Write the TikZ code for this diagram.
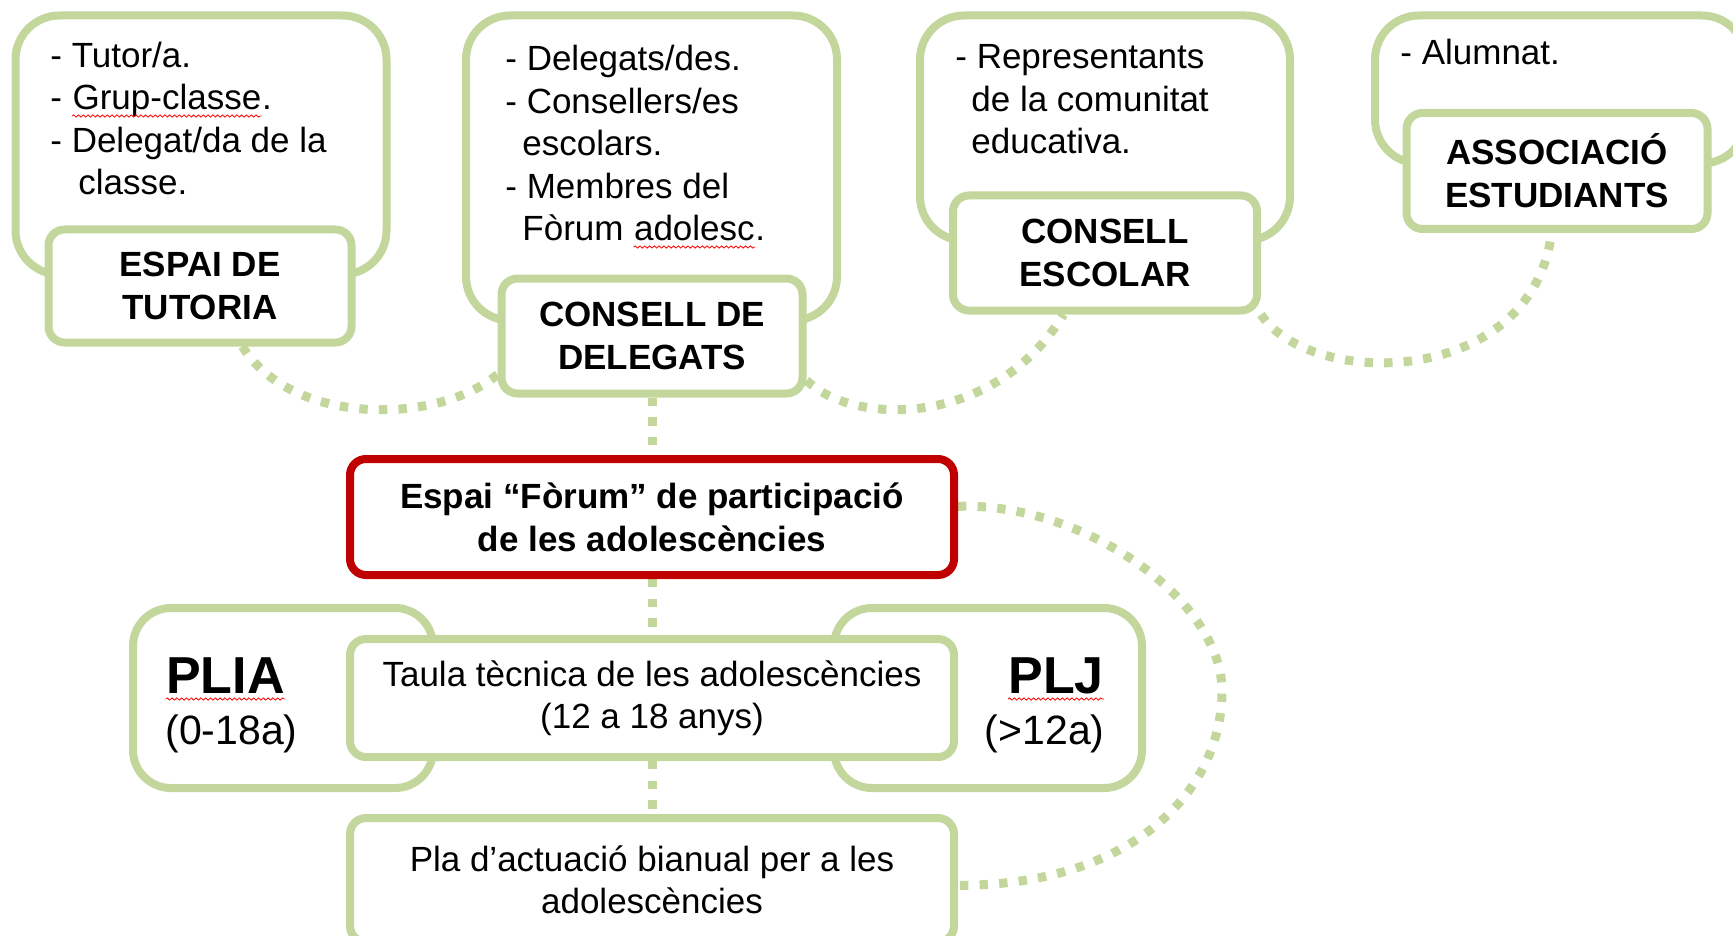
\documentclass[tikz,border=0pt]{standalone}
\usepackage{fontspec}
\setmainfont{Liberation Sans}
\usepackage{tikz}
\usetikzlibrary{backgrounds}
\usetikzlibrary{decorations.pathmorphing}

\definecolor{grn}{HTML}{C3D69B}
\definecolor{forumred}{HTML}{C00000}

\newcommand{\spellwave}[1]{\tikz[baseline=(w.base)]{\node[inner sep=0pt,anchor=base] (w) at (0,0) {#1};
  \draw[red,line width=0.4pt,decorate,decoration={snake,amplitude=0.55pt,segment length=2.4pt}]
    ([yshift=-3pt]w.base west) -- ([yshift=-3pt]w.base east);}}

\begin{document}
\begin{tikzpicture}[x=0.5pt,y=-0.5pt,
  outer/.style={draw=grn,line width=4pt,fill=white,rounded corners=22pt,inner sep=0pt},
  box/.style={draw=grn,line width=4pt,fill=white,rounded corners=8pt,align=center,inner sep=0pt,
    font=\fontsize{17.5}{21}\selectfont},
  head/.style={box,font=\bfseries\fontsize{17.5}{21.5}\selectfont},
  list/.style={anchor=base west,align=left,inner sep=0pt,font=\fontsize{17.5}{21.25}\selectfont},
  conn/.style={draw=grn,line width=4.5pt,dash pattern=on 4.2pt off 5.6pt}]

\useasboundingbox (0,0) rectangle (1733,936);

% top row (list texts are placed by the baseline of their last line)
\node[outer,minimum width=185.5pt,minimum height=129.5pt] (tutOut) at (201,145) {};
\node[list] (tutTxt) at (50,195) {- Tutor/a.\\- \spellwave{Grup-classe}.\\- Delegat/da de la\\\hspace*{14pt}classe.};
\node[head,minimum width=151.5pt,minimum height=56.5pt] (tutLab) at (200,286) {ESPAI DE\\TUTORIA};

\node[outer,minimum width=185.5pt,minimum height=152.5pt] (delOut) at (651.5,168) {};
\node[list] (delTxt) at (505,241) {- Delegats/des.\\- Consellers/es\\\hspace*{8.5pt}escolars.\\- Membres del\\\hspace*{8.5pt}Fòrum \spellwave{adolesc}.};
\node[head,minimum width=150.5pt,minimum height=57.5pt] (delLab) at (652,336) {CONSELL DE\\DELEGATS};

\node[outer,minimum width=185pt,minimum height=112.5pt] (escOut) at (1105,128) {};
\node[list] (escTxt) at (955,154) {- Representants\\\hspace*{8pt}de la comunitat\\\hspace*{8pt}educativa.};
\node[head,minimum width=152pt,minimum height=57.5pt] (escLab) at (1105,253) {CONSELL\\ESCOLAR};

\node[outer,minimum width=185.5pt,minimum height=74pt] (assOut) at (1560.5,89.5) {};
\node[list] (assTxt) at (1400,65) {- Alumnat.};
\node[head,minimum width=150.5pt,minimum height=58pt] (assLab) at (1557,171) {ASSOCIACIÓ\\ESTUDIANTS};

% central column
\node[head,draw=forumred,minimum width=302pt,minimum height=58pt] (forum) at (652,517) {Espai “Fòrum” de participació\\de les adolescències};

\node[outer,rounded corners=19pt,minimum width=150pt,minimum height=90pt] (plia) at (283,698) {};
\node[outer,rounded corners=19pt,minimum width=154pt,minimum height=90pt] (plj) at (988,698) {};
\node[box,minimum width=302pt,minimum height=59pt] (taula) at (652,698) {Taula tècnica de les adolescències\\(12 a 18 anys)};

\node[anchor=base west,inner sep=0pt,font=\bfseries\fontsize{26}{30}\selectfont] (pliaName) at (165,693) {\spellwave{PLIA}};
\node[anchor=base west,inner sep=0pt,font=\fontsize{20.5}{24}\selectfont] (pliaAge) at (165,744) {(0-18a)};
\node[anchor=base east,inner sep=0pt,font=\bfseries\fontsize{26}{30}\selectfont] (pljName) at (1105,693) {\spellwave{PLJ}};
\node[anchor=base east,inner sep=0pt,font=\fontsize{20.5}{24}\selectfont] (pljAge) at (1105,744) {(>12a)};

\node[box,minimum width=302pt,minimum height=62pt] (pla) at (652,880) {Pla d’actuació bianual per a les\\adolescències};

% dotted links
\begin{scope}[on background layer]
\draw[conn] (tutLab.305) .. controls +(50,80) and +(-60,50) .. (delLab.194);
\draw[conn] (delLab.344) .. controls +(45,45) and +(-70,115) .. (escLab.236);
\draw[conn] (escLab.south east) .. controls +(50,75) and +(-20,155) .. (assLab.265);
\draw[conn] (delLab) -- (forum);
\draw[conn] (forum) -- (taula);
\draw[conn] (taula) -- (pla);
\coordinate (arcR) at (1222,691);
\draw[conn] (forum.2) .. controls +(126,-4) and +(0,-91) .. (arcR)
  .. controls +(0,99) and +(176,0) .. (pla.359);
\end{scope}

\end{tikzpicture}
\end{document}
